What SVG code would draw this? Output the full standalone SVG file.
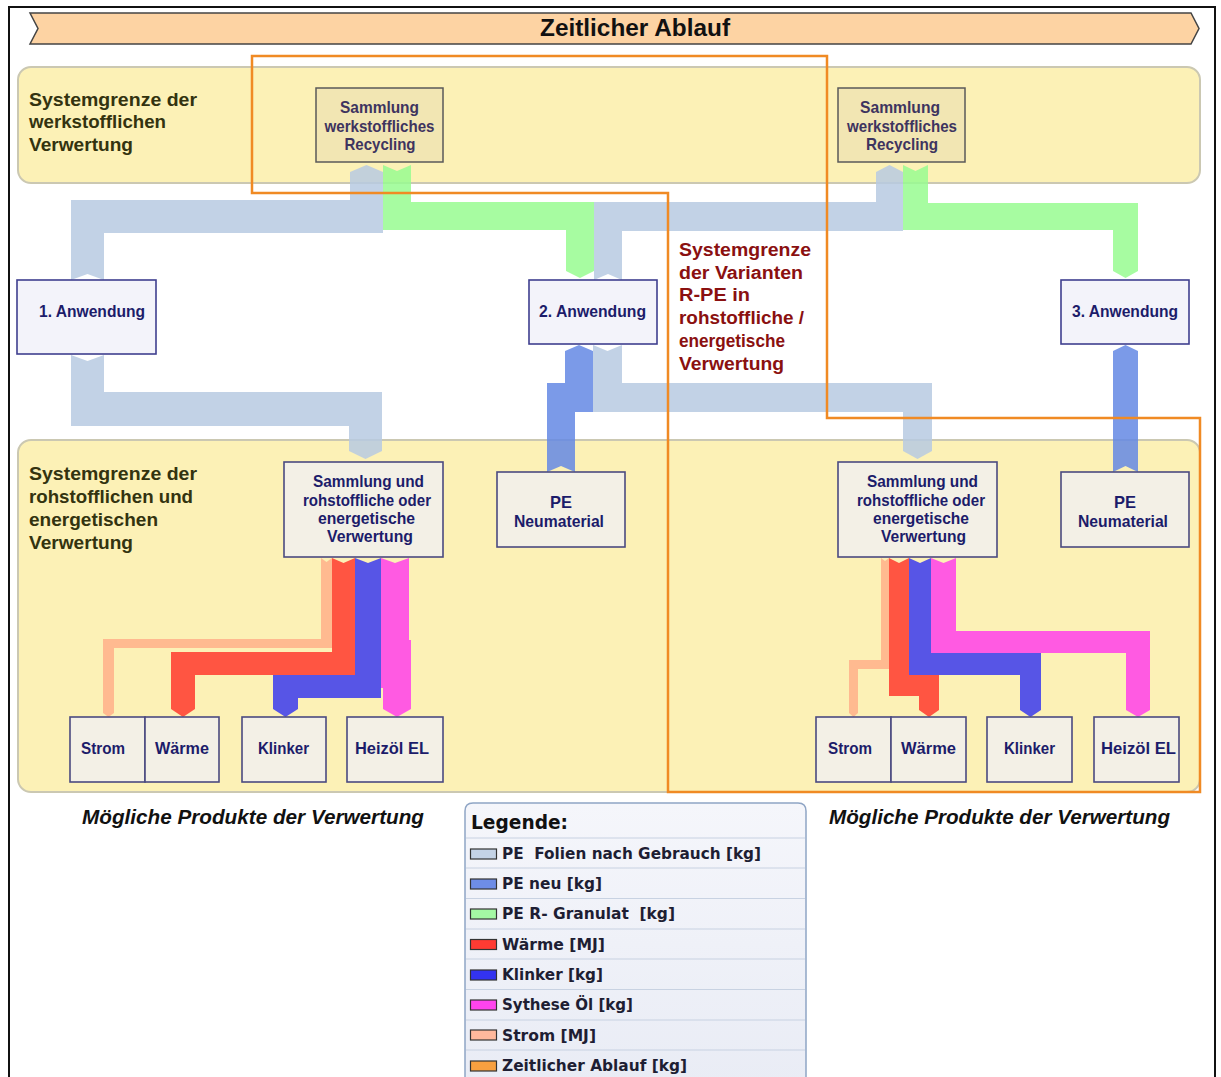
<svg xmlns="http://www.w3.org/2000/svg" width="1221" height="1077" viewBox="0 0 1221 1077">
<defs>
<linearGradient id="lg" x1="0" y1="0" x2="0" y2="1">
<stop offset="0" stop-color="#F5F6FB"/>
<stop offset="1" stop-color="#E9ECF5"/>
</linearGradient>
</defs>
<style>
.band{fill:#FCF1B6;stroke:#CBC8B2;stroke-width:2}
.fl{fill-opacity:0.85;stroke:none}
.gray{fill:#B7CAE2}
.green{fill:#98FB90}
.pblue{fill:#6488E4}
.red{fill:#FF3A2E}
.dblue{fill:#3A3AEE}
.mag{fill:#FF40EA}
.salm{fill:#FFB089}
.nR{fill:#F2E6B3;stroke:#5A5A5A;stroke-width:1.5}
.nA{fill:#F3F3FA;stroke:#3F3F8F;stroke-width:1.6}
.nB{fill:#F3F0E6;stroke:#4A4A80;stroke-width:1.6}
.t{font-family:"Liberation Sans",Arial,sans-serif;font-weight:bold;text-anchor:middle}
.tr{font-size:17px;fill:#3E345F}
.tn{font-size:17px;fill:#1C1C6A}
.reg{font-family:"Liberation Sans",Arial,sans-serif;font-weight:bold;font-size:18px;fill:#33330F}
.var{font-family:"Liberation Sans",Arial,sans-serif;font-weight:bold;font-size:18px;fill:#8A1010}
.mp{font-family:"Liberation Sans",Arial,sans-serif;font-weight:bold;font-style:italic;font-size:21px;fill:#111;text-anchor:middle}
.lg{font-family:"DejaVu Sans",Verdana,sans-serif;font-weight:bold;font-size:16px;fill:#1E1E33;white-space:pre}
.sw{stroke:#333;stroke-width:1.2}
.rowl{stroke:#C8D2E2;stroke-width:1.2}
.orange{fill:none;stroke:#F08A24;stroke-width:2.5}
</style>

<rect x="0" y="0" width="1221" height="1077" fill="#FFFFFF"/>
<rect x="9" y="7" width="1206" height="1080" fill="none" stroke="#111" stroke-width="2"/>

<g id="banner">
<polygon points="30,13 1191,13 1199,28.5 1191,44 30,44 38,28.5" fill="#FDD3A3" stroke="#444" stroke-width="1.5"/>
<text x="635" y="36" class="t" font-size="24" fill="#111" textLength="190" lengthAdjust="spacingAndGlyphs">Zeitlicher Ablauf</text>
</g>

<g id="band-top">
<rect x="18" y="67" width="1182" height="116" rx="13" class="band"/>
<text class="reg" x="29" y="106" textLength="168" lengthAdjust="spacingAndGlyphs">Systemgrenze der</text>
<text class="reg" x="29" y="128" textLength="137" lengthAdjust="spacingAndGlyphs">werkstofflichen</text>
<text class="reg" x="29" y="151" textLength="104" lengthAdjust="spacingAndGlyphs">Verwertung</text>
</g>

<g id="band-bottom">
<rect x="18" y="440" width="1182" height="352" rx="13" class="band"/>
<text class="reg" x="29" y="480" textLength="168" lengthAdjust="spacingAndGlyphs">Systemgrenze der</text>
<text class="reg" x="29" y="503" textLength="164" lengthAdjust="spacingAndGlyphs">rohstofflichen und</text>
<text class="reg" x="29" y="526" textLength="129" lengthAdjust="spacingAndGlyphs">energetischen</text>
<text class="reg" x="29" y="549" textLength="104" lengthAdjust="spacingAndGlyphs">Verwertung</text>
</g>

<g id="connectors">
<polygon class="fl gray" points="71,280 71,200 350,200 350,172 366.5,165 383,172 383,233 104,233 104,280 87.5,274"/>
<polygon class="fl green" points="383,165 397,171 411,165 411,202 594,202 594,271 580,278 566,271 566,230 383,230"/>
<polygon class="fl gray" points="594,280 594,202 876,202 876,172 889.5,165 903,172 903,231 622,231 622,280 608,274"/>
<polygon class="fl green" points="903,165 915.5,171 928,165 928,203 1138,203 1138,271 1125.5,278 1113,271 1113,230 903,230"/>
<polygon class="fl gray" points="71,355 87.5,361 104,355 104,392 382,392 382,451 365.5,459 349,451 349,426 71,426"/>
<polygon class="fl pblue" points="547,472 547,383 565,383 565,351 579,345 593,351 593,412 575,412 575,472 561,466"/>
<polygon class="fl gray" points="593,345 607.5,351 622,345 622,383 932,383 932,451 917.5,459 903,451 903,412 593,412"/>
<polygon class="fl pblue" points="1113,472 1113,351 1125.5,345 1138,351 1138,472 1125.5,466"/>

<polygon class="fl salm" points="321,558 326.5,562 332,558 332,648 114,648 114,713 108.5,717 103,713 103,639 321,639"/>
<polygon class="fl red" points="332,558 343.5,563 355,558 355,675 195,675 195,709 183,717 171,709 171,652 332,652"/>
<polygon class="fl dblue" points="355,558 368,563 381,558 381,698 298,698 298,709 285.5,717 273,709 273,675 355,675"/>
<polygon class="fl mag" points="381,558 395,563 409,558 409,640 411,640 411,709 397,717 383,709 383,688 381,688"/>

<polygon class="fl salm" points="881,558 885,561 889,558 889,669 858,669 858,713 853.5,717 849,713 849,660 881,660"/>
<polygon class="fl red" points="889,558 899,563 909,558 909,675 939,675 939,710 929,717 919,710 919,696 889,696"/>
<polygon class="fl dblue" points="909,558 920,563 931,558 931,653 1041,653 1041,710 1030.5,717 1020,710 1020,675 909,675"/>
<polygon class="fl mag" points="931,558 943.5,563 956,558 956,631 1150,631 1150,710 1138,717 1126,710 1126,653 931,653"/>
</g>

<g id="recycling-left">
<rect x="316" y="88" width="127" height="74" class="nR"/>
<text class="t tr" x="379.5" y="113" textLength="79" lengthAdjust="spacingAndGlyphs">Sammlung</text>
<text class="t tr" x="379.5" y="132" textLength="110" lengthAdjust="spacingAndGlyphs">werkstoffliches</text>
<text class="t tr" x="380" y="150" textLength="71" lengthAdjust="spacingAndGlyphs">Recycling</text>
</g>
<g id="recycling-right">
<rect x="838" y="88" width="127" height="74" class="nR"/>
<text class="t tr" x="900" y="113" textLength="80" lengthAdjust="spacingAndGlyphs">Sammlung</text>
<text class="t tr" x="902" y="132" textLength="110" lengthAdjust="spacingAndGlyphs">werkstoffliches</text>
<text class="t tr" x="902" y="150" textLength="72" lengthAdjust="spacingAndGlyphs">Recycling</text>
</g>

<g id="anwendung-1">
<rect x="17" y="280" width="139" height="74" class="nA"/>
<text class="t tn" x="92" y="317" textLength="106" lengthAdjust="spacingAndGlyphs">1. Anwendung</text>
</g>
<g id="anwendung-2">
<rect x="529" y="280" width="128" height="64" class="nA"/>
<text class="t tn" x="592.5" y="317" textLength="107" lengthAdjust="spacingAndGlyphs">2. Anwendung</text>
</g>
<g id="anwendung-3">
<rect x="1061" y="280" width="128" height="64" class="nA"/>
<text class="t tn" x="1125" y="317" textLength="106" lengthAdjust="spacingAndGlyphs">3. Anwendung</text>
</g>

<g id="verwertung-left">
<rect x="284" y="462" width="159" height="95" class="nB"/>
<text class="t tn" x="368.5" y="487" textLength="111" lengthAdjust="spacingAndGlyphs">Sammlung und</text>
<text class="t tn" x="367" y="506" textLength="128" lengthAdjust="spacingAndGlyphs">rohstoffliche oder</text>
<text class="t tn" x="366.5" y="524" textLength="97" lengthAdjust="spacingAndGlyphs">energetische</text>
<text class="t tn" x="370" y="542" textLength="86" lengthAdjust="spacingAndGlyphs">Verwertung</text>
</g>
<g id="verwertung-right">
<rect x="838" y="462" width="159" height="95" class="nB"/>
<text class="t tn" x="922.5" y="487" textLength="111" lengthAdjust="spacingAndGlyphs">Sammlung und</text>
<text class="t tn" x="921" y="506" textLength="128" lengthAdjust="spacingAndGlyphs">rohstoffliche oder</text>
<text class="t tn" x="921" y="524" textLength="96" lengthAdjust="spacingAndGlyphs">energetische</text>
<text class="t tn" x="923.5" y="542" textLength="85" lengthAdjust="spacingAndGlyphs">Verwertung</text>
</g>

<g id="pe-neu-left">
<rect x="497" y="472" width="128" height="75" class="nB"/>
<text class="t tn" x="561" y="508" textLength="22" lengthAdjust="spacingAndGlyphs">PE</text>
<text class="t tn" x="559" y="527" textLength="90" lengthAdjust="spacingAndGlyphs">Neumaterial</text>
</g>
<g id="pe-neu-right">
<rect x="1061" y="472" width="128" height="75" class="nB"/>
<text class="t tn" x="1125" y="508" textLength="22" lengthAdjust="spacingAndGlyphs">PE</text>
<text class="t tn" x="1123" y="527" textLength="90" lengthAdjust="spacingAndGlyphs">Neumaterial</text>
</g>

<g id="strom-left"><rect x="70" y="717" width="75" height="65" class="nB"/><text class="t tn" x="103" y="754" textLength="44" lengthAdjust="spacingAndGlyphs">Strom</text></g>
<g id="waerme-left"><rect x="145" y="717" width="74" height="65" class="nB"/><text class="t tn" x="182" y="754" textLength="54" lengthAdjust="spacingAndGlyphs">Wärme</text></g>
<g id="klinker-left"><rect x="242" y="717" width="84" height="65" class="nB"/><text class="t tn" x="283.5" y="754" textLength="51" lengthAdjust="spacingAndGlyphs">Klinker</text></g>
<g id="heizoel-left"><rect x="347" y="717" width="96" height="65" class="nB"/><text class="t tn" x="392" y="754" textLength="74" lengthAdjust="spacingAndGlyphs">Heizöl EL</text></g>

<g id="strom-right"><rect x="816" y="717" width="75" height="65" class="nB"/><text class="t tn" x="850" y="754" textLength="44" lengthAdjust="spacingAndGlyphs">Strom</text></g>
<g id="waerme-right"><rect x="891" y="717" width="75" height="65" class="nB"/><text class="t tn" x="928.5" y="754" textLength="55" lengthAdjust="spacingAndGlyphs">Wärme</text></g>
<g id="klinker-right"><rect x="987" y="717" width="85" height="65" class="nB"/><text class="t tn" x="1029.5" y="754" textLength="51" lengthAdjust="spacingAndGlyphs">Klinker</text></g>
<g id="heizoel-right"><rect x="1094" y="717" width="85" height="65" class="nB"/><text class="t tn" x="1138.5" y="754" textLength="75" lengthAdjust="spacingAndGlyphs">Heizöl EL</text></g>

<g id="systemgrenze-varianten">
<polygon class="orange" points="252,56 827,56 827,418 1200,418 1200,792 668,792 668,193 252,193"/>
<text class="var" x="679" y="256" textLength="132" lengthAdjust="spacingAndGlyphs">Systemgrenze</text>
<text class="var" x="679" y="279" textLength="124" lengthAdjust="spacingAndGlyphs">der Varianten</text>
<text class="var" x="679" y="301" textLength="71" lengthAdjust="spacingAndGlyphs">R-PE in</text>
<text class="var" x="679" y="324" textLength="125" lengthAdjust="spacingAndGlyphs">rohstoffliche /</text>
<text class="var" x="679" y="347" textLength="106" lengthAdjust="spacingAndGlyphs">energetische</text>
<text class="var" x="679" y="370" textLength="105" lengthAdjust="spacingAndGlyphs">Verwertung</text>
</g>

<text class="mp" x="253" y="824" textLength="342" lengthAdjust="spacingAndGlyphs">Mögliche Produkte der Verwertung</text>
<text class="mp" x="999.5" y="824" textLength="341" lengthAdjust="spacingAndGlyphs">Mögliche Produkte der Verwertung</text>

<g id="legend">
<path d="M465,1085 L465,811 Q465,803 473,803 L798,803 Q806,803 806,811 L806,1085 Z" fill="url(#lg)" stroke="#8FA5C5" stroke-width="1.5"/>
<text x="471" y="829" font-family="'DejaVu Sans',Verdana,sans-serif" font-weight="bold" font-size="20" fill="#111" textLength="97" lengthAdjust="spacingAndGlyphs">Legende:</text>
<line class="rowl" x1="466" y1="838" x2="805" y2="838"/>
<line class="rowl" x1="466" y1="868" x2="805" y2="868"/>
<line class="rowl" x1="466" y1="898.5" x2="805" y2="898.5"/>
<line class="rowl" x1="466" y1="929" x2="805" y2="929"/>
<line class="rowl" x1="466" y1="959" x2="805" y2="959"/>
<line class="rowl" x1="466" y1="989.5" x2="805" y2="989.5"/>
<line class="rowl" x1="466" y1="1020" x2="805" y2="1020"/>
<line class="rowl" x1="466" y1="1050" x2="805" y2="1050"/>
<rect class="sw" x="470.5" y="849" width="26" height="10" fill="#C4D3E6"/>
<rect class="sw" x="470.5" y="879" width="26" height="10" fill="#6E8DE6"/>
<rect class="sw" x="470.5" y="909" width="26" height="10" fill="#A4F8A4"/>
<rect class="sw" x="470.5" y="939.5" width="26" height="10" fill="#FF3B33"/>
<rect class="sw" x="470.5" y="970" width="26" height="10" fill="#3333F0"/>
<rect class="sw" x="470.5" y="1000" width="26" height="10" fill="#FF44EE"/>
<rect class="sw" x="470.5" y="1030" width="26" height="10" fill="#FFB89C"/>
<rect class="sw" x="470.5" y="1061" width="26" height="10" fill="#F8A040"/>
<text class="lg" xml:space="preserve" x="502" y="859" textLength="259" lengthAdjust="spacingAndGlyphs">PE  Folien nach Gebrauch [kg]</text>
<text class="lg" x="502" y="889" textLength="100" lengthAdjust="spacingAndGlyphs">PE neu [kg]</text>
<text class="lg" xml:space="preserve" x="502" y="919" textLength="173" lengthAdjust="spacingAndGlyphs">PE R- Granulat  [kg]</text>
<text class="lg" x="502" y="950" textLength="103" lengthAdjust="spacingAndGlyphs">Wärme [MJ]</text>
<text class="lg" x="502" y="980" textLength="101" lengthAdjust="spacingAndGlyphs">Klinker [kg]</text>
<text class="lg" x="502" y="1010" textLength="131" lengthAdjust="spacingAndGlyphs">Sythese Öl [kg]</text>
<text class="lg" x="502" y="1041" textLength="94" lengthAdjust="spacingAndGlyphs">Strom [MJ]</text>
<text class="lg" x="502" y="1071" textLength="185" lengthAdjust="spacingAndGlyphs">Zeitlicher Ablauf [kg]</text>
</g>
</svg>
